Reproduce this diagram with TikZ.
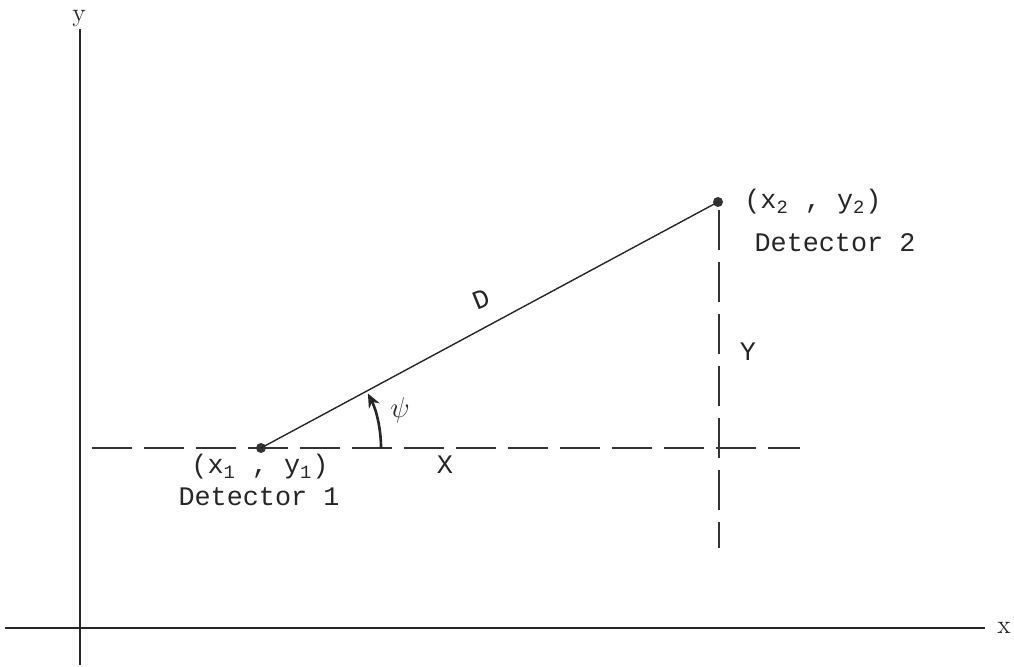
\documentclass[tikz,border=0pt]{standalone}
\usepackage{fontspec}
\setmonofont{Liberation Mono}
\usetikzlibrary{arrows.meta}
\tikzset{
  axis/.style={line width=0.9pt, draw=black!85},
  guide/.style={line width=0.9pt, draw=black!80, dash pattern=on 20pt off 6pt},
  baseline/.style={line width=0.7pt, draw=black!85},
  detector/.style={circle, fill=black!80, inner sep=0pt, minimum size=5pt},
  lbl/.style={font=\fontsize{13.4}{16}\selectfont\ttfamily, text=black!85, inner sep=1pt},
  axlbl/.style={font=\fontsize{13}{15}\selectfont\rmfamily, text=black!85, inner sep=1pt},
  anglearrow/.style={line width=1.3pt, draw=black!85, -{Stealth[length=7pt,width=6pt]}},
}
\begin{document}
\begin{tikzpicture}[x=0.5pt,y=0.5pt]
  \useasboundingbox (0,0) rectangle (1014,667);
  % axes
  \coordinate (ytop) at (80,638);
  \coordinate (ybot) at (80,2);
  \coordinate (xleft) at (5,39);
  \coordinate (xright) at (985,39);
  \draw[axis] (ybot) -- (ytop);
  \draw[axis] (xleft) -- (xright);
  \node[axlbl] (ylab) at (79,648) {y};
  \node[axlbl] (xlab) at (1004,39) {x};

  % detectors
  \node[detector] (det1) at (261,219) {};
  \node[detector] (det2) at (718,465) {};

  % guide lines
  \coordinate (hl) at (92,219);
  \coordinate (hr) at (800,219);
  \coordinate (vt) at (719,457);
  \coordinate (vb) at (719,119);
  \draw[guide] (hl) -- (hr);
  \draw[guide] (vt) -- (vb);

  % baseline between detectors
  \draw[baseline] (det1.center) -- (det2.center);
  \node[lbl, rotate=22] (dlab) at (481,368) {D};

  % angle
  \draw[anglearrow] ([shift={(0:60pt)}]det1.center) arc[start angle=0, end angle=27, radius=60pt];
  \node[lbl] (psi) at (400,257) {$\psi$};

  \node[lbl] (xdist) at (445,202) {X};
  \node[lbl] (ydist) at (748,315) {Y};

  % labels
  \node[lbl, anchor=west] (pos2) at (742,465) {(x\textsubscript{2} , y\textsubscript{2})};
  \node[lbl] (name2) at (835,424) {Detector 2};
  \node[lbl] (pos1) at (260,200) {(x\textsubscript{1} , y\textsubscript{1})};
  \node[lbl] (name1) at (259,170) {Detector 1};
\end{tikzpicture}
\end{document}
